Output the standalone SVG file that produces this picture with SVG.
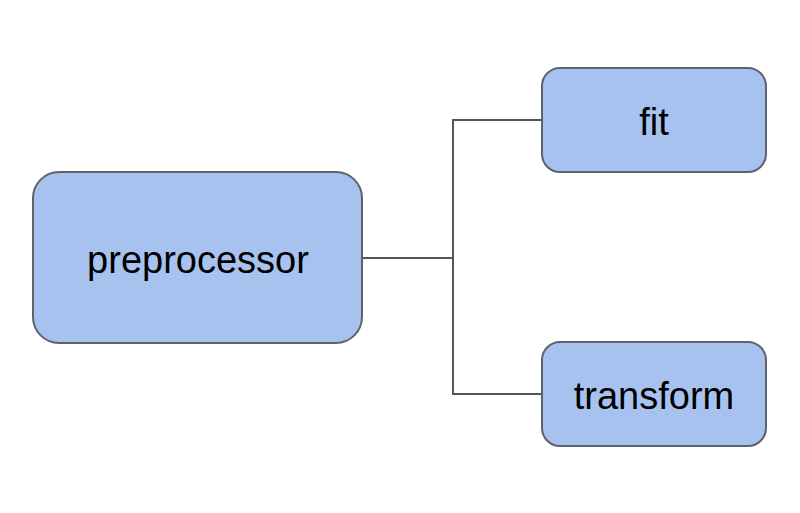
<svg xmlns="http://www.w3.org/2000/svg" width="800" height="513" viewBox="0 0 800 513">
<style>
.box{fill:#a8c2ef;stroke:#5f6368;stroke-width:2}
.lbl{font-family:"Liberation Sans",Arial,sans-serif;font-size:38px;fill:#000;text-anchor:middle}
.conn{fill:none;stroke:#555;stroke-width:2}
</style>
<rect width="800" height="513" fill="#fff"/>
<g id="connectors">
<path class="conn" d="M362,258 H453"/>
<path class="conn" d="M542,120 H453 V394 H542"/>
</g>
<g id="preprocessor">
<rect class="box" x="33" y="172" width="329" height="171" rx="26"/>
<text class="lbl" x="198" y="273">preprocessor</text>
</g>
<g id="fit">
<rect class="box" x="542" y="68" width="224" height="104" rx="18"/>
<text class="lbl" x="654" y="135">fit</text>
</g>
<g id="transform">
<rect class="box" x="542" y="342" width="224" height="104" rx="18"/>
<text class="lbl" x="654" y="409">transform</text>
</g>
</svg>
